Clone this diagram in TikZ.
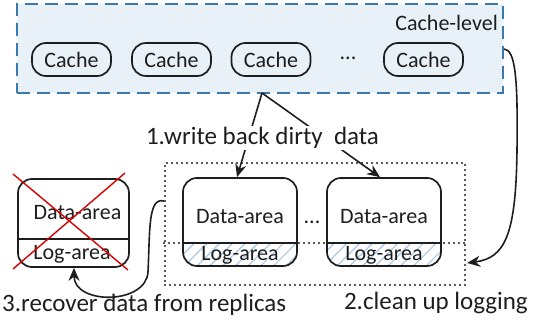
\documentclass[tikz,border=0pt]{standalone}
\usepackage{fontspec}
\setmainfont{Carlito}
\usetikzlibrary{arrows.meta,patterns.meta}
\definecolor{ink}{HTML}{1E1E1E}
\definecolor{cacheblue}{HTML}{3A78B0}
\definecolor{cachefill}{HTML}{E8F1F8}
\definecolor{hatch}{HTML}{A9C8E6}
\tikzset{
  boxfont/.style={font=\fontsize{22}{26}\selectfont},
  labelfont/.style={font=\fontsize{25}{29}\selectfont},
  cachebox/.style={draw=ink, line width=1.7pt, rounded corners=14pt, minimum width=79pt, minimum height=33pt, inner sep=0pt, boxfont, text=ink},
  levelbox/.style={draw=cacheblue, fill=cachefill, line width=2pt, dash pattern=on 13pt off 7pt, minimum width=486pt, minimum height=89pt, inner sep=0pt},
  nodebox/.style={draw=ink, line width=1.7pt, rounded corners=14pt, minimum width=114pt, minimum height=88pt, inner sep=0pt},
  dotline/.style={draw=ink, line width=2.2pt, line cap=round, dash pattern=on 0pt off 5pt},
  arr/.style={draw=ink, line width=1.6pt, -{Stealth[length=13pt,width=11pt]}},
  plainline/.style={draw=ink, line width=1.7pt},
  txt/.style={boxfont, text=ink, inner sep=0pt},
  lbl/.style={labelfont, text=ink, inner sep=1pt},
  hatchfill/.style={pattern={Lines[angle=45,distance=9pt,line width=1.2pt]}, pattern color=hatch},
  cross/.style={draw=red!85!black, line width=1.4pt}
}
\begin{document}
\begin{tikzpicture}[x=1pt,y=-1pt]
\useasboundingbox (0,0) rectangle (536,323);
% cache level
\node[levelbox] (cl) at (260,48.5) {};
\node[txt, anchor=east] (cltext) at (498,23) {Cache-level};
\node[cachebox] (c1) at (71.5,59.5) {Cache};
\node[cachebox] (c2) at (171.5,59.5) {Cache};
\node[cachebox] (c3) at (271,59.5) {Cache};
\node[txt] (cdots) at (348,58) {...};
\node[cachebox] (c4) at (423.5,59.5) {Cache};
% group of replicas
\node[dotline, minimum width=300pt, minimum height=122pt, inner sep=0pt] (grp) at (315,224) {};
% data boxes
\begin{scope}
\clip[rounded corners=14pt] (183,178) rectangle (297,266);
\fill[hatchfill] (183,243) rectangle (297,266);
\end{scope}
\begin{scope}
\clip[rounded corners=14pt] (327,178) rectangle (441,266);
\fill[hatchfill] (327,243) rectangle (441,266);
\end{scope}
\node[nodebox] (d1) at (240,222) {};
\node[nodebox] (d2) at (384,222) {};
\draw[plainline] (d1.west |- 0,243) -- (d1.east |- 0,243);
\draw[plainline] (d2.west |- 0,243) -- (d2.east |- 0,243);
\node[txt] (d1data) at (240,217) {Data-area};
\node[txt] (d1log) at (240,255) {Log-area};
\node[txt] (d2data) at (384,217) {Data-area};
\node[txt] (d2log) at (384,255) {Log-area};
\node[txt] (ddots) at (312,222) {...};
\draw[dotline] (grp.west |- 0,243) -- (grp.east |- 0,243);
% failed box
\node[nodebox, minimum width=111pt] (f) at (73.5,223) {};
\draw[plainline] (f.west |- 0,239) -- (f.east |- 0,239);
\node[txt] (fdata) at (77.5,213) {Data-area};
\node[txt] (flog) at (72,254) {Log-area};
\coordinate (x1) at (13,174);
\coordinate (x2) at (128,270);
\coordinate (x3) at (125,173);
\coordinate (x4) at (13,269);
\draw[cross] (x1) -- (x2);
\draw[cross] (x3) -- (x4);
% arrows: write back
\coordinate (apex) at (262,93);
\draw[arr] (apex) -- ([xshift=-3pt]d1.north);
\draw[arr] (apex) -- ([xshift=-4pt]d2.north);
\node[lbl, fill=white] (wb) at (262.5,138) {1.write back dirty\ \ data};
% clean up logging
\coordinate (ce) at (cl.east |- 0,49);
\coordinate (ge) at ([xshift=1pt]grp.east |- 0,263);
\draw[arr] (ce) .. controls (515,50) and (518,75) .. (517,150) .. controls (516,235) and (505,258) .. (ge);
% recover
\coordinate (gw) at (grp.west |- 0,201);
\draw[arr] (gw) .. controls (148,197) and (150,230) .. (148,272) .. controls (146,305) and (74,305) .. (f.south -| 74,0);
% labels
\node[lbl, anchor=west] (rec) at (1,305) {3.recover data from replicas};
\node[lbl, anchor=east] (clean) at (529,303) {2.clean up logging};
\end{tikzpicture}
\end{document}
